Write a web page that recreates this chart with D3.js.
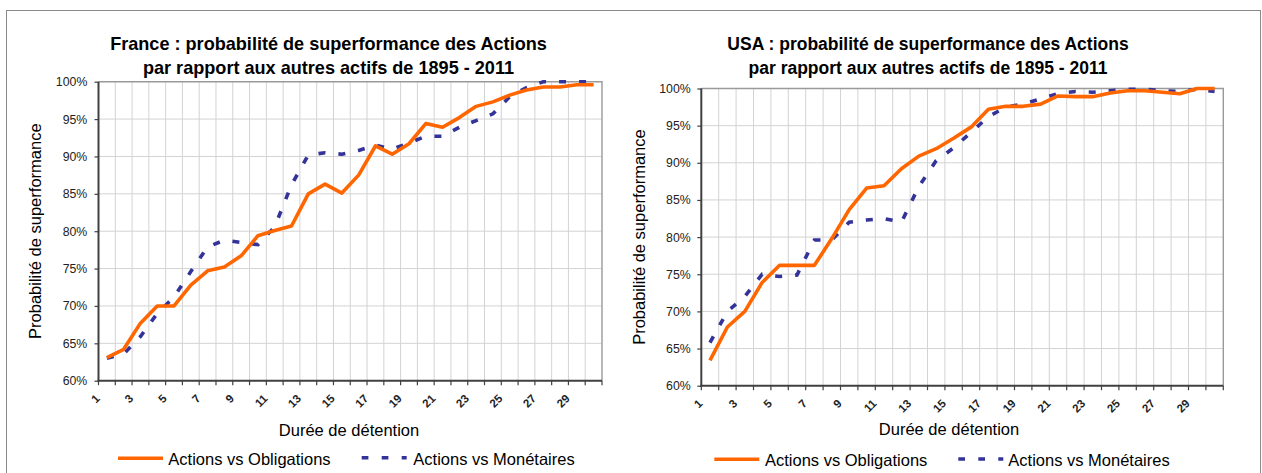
<!DOCTYPE html>
<html><head><meta charset="utf-8">
<script src="https://cdn.jsdelivr.net/npm/d3@7"></script>
<style>
html,body{margin:0;padding:0;background:#fff;}
svg{display:block;font-family:"Liberation Sans",Arial,sans-serif;}
</style></head><body>
<svg id="c" width="1262" height="473"></svg>
<script>
const categories = [1,2,3,4,5,6,7,8,9,10,11,12,13,14,15,16,17,18,19,20,21,22,23,24,25,26,27,28,29,30];
const xTickLabels = [1,3,5,7,9,11,13,15,17,19,21,23,25,27,29];
const yTickValues = [60,65,70,75,80,85,90,95,100];
const seriesNames = ["Actions vs Obligations", "Actions vs Monétaires"];

const franceObligations = [63.1,64.2,67.7,70.0,70.0,72.8,74.7,75.2,76.7,79.4,80.1,80.7,85.0,86.3,85.1,87.5,91.4,90.3,91.7,94.4,93.9,95.2,96.7,97.3,98.2,98.9,99.3,99.3,99.6,99.6];
const franceMonetaires  = [63.0,63.6,65.9,69.0,71.2,74.6,77.9,78.8,78.5,78.2,80.6,86.2,90.2,90.5,90.3,90.8,91.5,91.0,91.8,92.7,92.7,93.9,94.8,95.7,98.0,99.2,100,100,100,100];
const usaObligations    = [63.4,67.9,70.0,73.9,76.2,76.2,76.2,79.8,83.7,86.6,86.9,89.2,90.9,91.9,93.3,94.8,97.2,97.6,97.6,97.9,99.0,98.9,98.9,99.4,99.7,99.7,99.5,99.3,100,100];
const usaMonetaires     = [65.8,70.0,72.0,75.0,74.7,74.9,79.6,79.6,82.0,82.3,82.5,82.0,86.8,90.3,92.0,94.1,96.2,97.5,97.9,98.6,99.3,99.6,99.5,99.7,99.9,99.9,99.7,99.6,99.9,99.6];

const franceTitle = ["France : probabilité de superformance des Actions", "par rapport aux autres actifs de 1895 - 2011"];
const usaTitle = ["USA : probabilité de superformance des Actions", "par rapport aux autres actifs de 1895 - 2011"];
const yAxisTitle = "Probabilité de superformance";
const xAxisTitle = "Durée de détention";

const ORANGE = "#FF6600", BLUE = "#333399", GRID = "#d3d3d3";

const svg = d3.select("#c");
svg.append("rect").attr("x",6.5).attr("y",10.5).attr("width",1254).attr("height",480)
  .attr("fill","none").attr("stroke","#8a8a8a").attr("stroke-width",1);

const charts = [
  { title: franceTitle, s1: franceObligations, s2: franceMonetaires,
    plot:{left:98.5,right:602,top:81.7,bottom:380.7},
    titleX:328.5, titleY:[50,73.5], titleSize:18.1,
    yTitleX:41, xTitleX:349, xTitleY:436, yLabRight:87.3,
    legend:[{x1:118,x2:163,y:458.3,tx:168.3},{x1:361.7,x2:406.7,y:457.7,tx:413.3}], legendTY:465.3 },
  { title: usaTitle, s1: usaObligations, s2: usaMonetaires,
    plot:{left:701.3,right:1223.3,top:88.5,bottom:385.7},
    titleX:928, titleY:[50,74], titleSize:17.5,
    yTitleX:645, xTitleX:949, xTitleY:435, yLabRight:690.7,
    legend:[{x1:714.3,x2:759.3,y:459.3,tx:765},{x1:958.3,x2:1003.3,y:459,tx:1008.3}], legendTY:465.5 }
];

function drawChart(cfg){
  const p = cfg.plot;
  const g = svg.append("g");
  const x = d3.scaleBand().domain(categories).range([p.left,p.right]);
  const y = d3.scaleLinear().domain([60,100]).range([p.bottom,p.top]);
  const cx = c => x(c) + x.bandwidth()/2;

  g.append("g").selectAll("line").data(yTickValues.slice(1,-1)).join("line")
    .attr("x1",p.left).attr("x2",p.right).attr("y1",d=>y(d)).attr("y2",d=>y(d))
    .attr("stroke",GRID).attr("stroke-width",1);
  g.append("g").selectAll("line").data(categories.slice(1)).join("line")
    .attr("x1",d=>x(d)).attr("x2",d=>x(d)).attr("y1",p.top).attr("y2",p.bottom)
    .attr("stroke",GRID).attr("stroke-width",1);
  g.append("path").attr("d",`M${p.left},${p.top}H${p.right}V${p.bottom}`)
    .attr("fill","none").attr("stroke","#9a9a9a").attr("stroke-width",1.4);

  const ya = g.append("g").attr("transform",`translate(${p.left},0)`)
    .call(d3.axisLeft(y).tickValues(yTickValues).tickFormat(d=>d+"%").tickSize(4).tickPadding(p.left-cfg.yLabRight-4));
  ya.select(".domain").remove();
  ya.selectAll(".tick line").attr("stroke","#404040").attr("stroke-width",1.2);
  ya.selectAll(".tick text").attr("font-size",12.3).attr("fill","#222")
    .attr("font-family","'Liberation Sans',Arial,sans-serif");
  ya.attr("font-family",null).attr("font-size",null);

  const bnds = categories.map(c=>x(c)).concat([p.right]);
  g.append("g").selectAll("line").data(bnds).join("line")
    .attr("x1",d=>d).attr("x2",d=>d).attr("y1",p.bottom).attr("y2",p.bottom+4.5)
    .attr("stroke","#404040").attr("stroke-width",1.2);
  g.append("g").selectAll("text").data(xTickLabels).join("text")
    .attr("transform",d=>`translate(${x(d)+2},${p.bottom+18.5}) rotate(-45)`)
    .attr("text-anchor","end").attr("font-size",11.5).attr("font-weight","bold").attr("fill","#222")
    .text(d=>d);

  g.append("line").attr("x1",p.left).attr("x2",p.left).attr("y1",p.top).attr("y2",p.bottom+1)
    .attr("stroke","#404040").attr("stroke-width",2);
  g.append("line").attr("x1",p.left-1).attr("x2",p.right).attr("y1",p.bottom).attr("y2",p.bottom)
    .attr("stroke","#404040").attr("stroke-width",2);

  const line = d3.line().x((d,i)=>cx(categories[i])).y(d=>y(d));
  g.append("path").datum(cfg.s2).attr("d",line).attr("fill","none")
    .attr("stroke",BLUE).attr("stroke-width",3.6).attr("stroke-dasharray","7,13");
  g.append("path").datum(cfg.s1).attr("d",line).attr("fill","none")
    .attr("stroke",ORANGE).attr("stroke-width",3.6).attr("stroke-linejoin","round");

  g.append("g").selectAll("text").data(cfg.title).join("text")
    .attr("x",cfg.titleX).attr("y",(d,i)=>cfg.titleY[i]).attr("text-anchor","middle")
    .attr("font-size",cfg.titleSize).attr("font-weight","bold").attr("fill","#000").text(d=>d);
  g.append("text").attr("transform",`translate(${cfg.yTitleX},${(p.top+p.bottom)/2}) rotate(-90)`)
    .attr("text-anchor","middle").attr("font-size",16.5).attr("fill","#000").text(yAxisTitle);
  g.append("text").attr("x",cfg.xTitleX).attr("y",cfg.xTitleY).attr("text-anchor","middle")
    .attr("font-size",16.5).attr("fill","#000").text(xAxisTitle);

  const L = cfg.legend;
  g.append("line").attr("x1",L[0].x1).attr("x2",L[0].x2).attr("y1",L[0].y).attr("y2",L[0].y)
    .attr("stroke",ORANGE).attr("stroke-width",3.6);
  g.append("line").attr("x1",L[1].x1).attr("x2",L[1].x2).attr("y1",L[1].y).attr("y2",L[1].y)
    .attr("stroke",BLUE).attr("stroke-width",3.6).attr("stroke-dasharray","6.7,13.3");
  g.append("g").selectAll("text").data(seriesNames).join("text")
    .attr("x",(d,i)=>L[i].tx).attr("y",cfg.legendTY).attr("font-size",16.5).attr("fill","#000").text(d=>d);
}
charts.forEach(drawChart);
</script>
</body></html>
